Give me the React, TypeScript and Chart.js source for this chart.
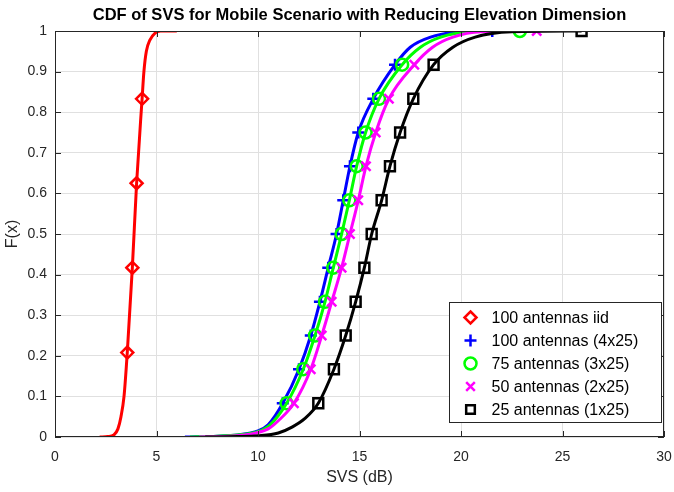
import React, { useEffect, useRef } from 'react';
import { Chart, registerables } from 'chart.js';

Chart.register(...registerables);

const FONT = '"Liberation Sans", Arial, Helvetica, sans-serif';
const AXIS_COLOR = '#262626';
const GRID_COLOR = '#e0e0e0';

const titleText = 'CDF of SVS for Mobile Scenario with Reducing Elevation Dimension';
const xTitle = 'SVS (dB)';
const yTitle = 'F(x)';

const seriesLabels = [
  '100 antennas iid',
  '100 antennas (4x25)',
  '75 antennas (3x25)',
  '50 antennas (2x25)',
  '25 antennas (1x25)',
];
const seriesColors = ['#ff0000', '#0000ff', '#00ff00', '#ff00ff', '#000000'];
const seriesMarkers = ['rectRot', 'cross', 'circle', 'crossRot', 'rect'];

// Curves
const iidCurveX = [2.2, 2.6, 2.9, 3.1, 3.25, 3.4, 3.56, 3.81, 4.02, 4.29, 4.38, 4.5, 4.68, 4.93, 5.2, 6.0];
const iidCurveY = [0, 0.001, 0.005, 0.02, 0.05, 0.1, 0.208, 0.417, 0.625, 0.833, 0.9, 0.95, 0.978, 0.995, 1, 1];

const ant100CurveX = [6.4, 8, 9, 10, 10.5, 11.22, 12.02, 12.6, 13.05, 13.46, 13.87, 14.2, 14.53, 14.94, 15.68, 16.75, 17.5, 18.5, 20, 21.54];
const ant100CurveY = [0, 0.002, 0.005, 0.015, 0.03, 0.083, 0.167, 0.25, 0.333, 0.417, 0.5, 0.583, 0.667, 0.75, 0.833, 0.917, 0.96, 0.985, 0.998, 1];

const ant75CurveX = [6.65, 8, 9, 10, 10.6, 11.41, 12.23, 12.81, 13.3, 13.71, 14.12, 14.5, 14.86, 15.3, 15.96, 17.1, 18, 19, 20.5, 22.9];
const ant75CurveY = [0, 0.002, 0.005, 0.013, 0.03, 0.083, 0.167, 0.25, 0.333, 0.417, 0.5, 0.583, 0.667, 0.75, 0.833, 0.917, 0.96, 0.985, 0.998, 1];

const ant50CurveX = [7.1, 8.5, 9.5, 10.5, 11, 11.77, 12.6, 13.14, 13.63, 14.12, 14.53, 14.94, 15.32, 15.8, 16.45, 17.7, 18.6, 19.6, 21, 23.73];
const ant50CurveY = [0, 0.002, 0.006, 0.02, 0.04, 0.083, 0.167, 0.25, 0.333, 0.417, 0.5, 0.583, 0.667, 0.75, 0.833, 0.917, 0.96, 0.985, 0.998, 1];

const ant25CurveX = [7.4, 9, 10, 11, 11.7, 12.3, 12.97, 13.74, 14.32, 14.81, 15.24, 15.6, 16.09, 16.5, 17.0, 17.65, 18.65, 19.6, 20.7, 22.5, 25.94];
const ant25CurveY = [0, 0.001, 0.003, 0.01, 0.025, 0.045, 0.083, 0.167, 0.25, 0.333, 0.417, 0.5, 0.583, 0.667, 0.75, 0.833, 0.917, 0.96, 0.985, 0.998, 1];

// Markers
const iidMarkX = [3.56, 3.81, 4.02, 4.29];
const iidMarkY = [0.208, 0.417, 0.625, 0.833];

const markLevels = [0.083, 0.167, 0.25, 0.333, 0.417, 0.5, 0.583, 0.667, 0.75, 0.833, 0.917, 1];
const ant100MarkX = [11.22, 12.02, 12.6, 13.05, 13.46, 13.87, 14.2, 14.53, 14.94, 15.68, 16.75, 21.54];
const ant75MarkX = [11.41, 12.23, 12.81, 13.3, 13.71, 14.12, 14.5, 14.86, 15.3, 15.96, 17.1, 22.9];
const ant50MarkX = [11.77, 12.6, 13.14, 13.63, 14.12, 14.53, 14.94, 15.32, 15.8, 16.45, 17.7, 23.73];
const ant25MarkX = [12.97, 13.74, 14.32, 14.81, 15.24, 15.6, 16.09, 16.5, 17.0, 17.65, 18.65, 25.94];

const xTicks = [0, 5, 10, 15, 20, 25, 30];
const yTicks = [0, 0.1, 0.2, 0.3, 0.4, 0.5, 0.6, 0.7, 0.8, 0.9, 1];

const curvesX = [iidCurveX, ant100CurveX, ant75CurveX, ant50CurveX, ant25CurveX];
const curvesY = [iidCurveY, ant100CurveY, ant75CurveY, ant50CurveY, ant25CurveY];
const marksX = [iidMarkX, ant100MarkX, ant75MarkX, ant50MarkX, ant25MarkX];
const marksY = [iidMarkY, markLevels, markLevels, markLevels, markLevels];

const zip = (xs: number[], ys: number[]) => xs.map((x, i) => ({ x, y: ys[i] }));

function drawMarker(ctx: CanvasRenderingContext2D, style: string, x: number, y: number, r: number) {
  ctx.beginPath();
  if (style === 'rectRot') {
    ctx.moveTo(x, y - r);
    ctx.lineTo(x + r, y);
    ctx.lineTo(x, y + r);
    ctx.lineTo(x - r, y);
    ctx.closePath();
  } else if (style === 'cross') {
    ctx.moveTo(x - r, y);
    ctx.lineTo(x + r, y);
    ctx.moveTo(x, y - r);
    ctx.lineTo(x, y + r);
  } else if (style === 'circle') {
    ctx.arc(x, y, r, 0, Math.PI * 2);
  } else if (style === 'crossRot') {
    const d = r * 0.72;
    ctx.moveTo(x - d, y - d);
    ctx.lineTo(x + d, y + d);
    ctx.moveTo(x + d, y - d);
    ctx.lineTo(x - d, y + d);
  } else if (style === 'rect') {
    const d = r * 0.72;
    ctx.rect(x - d, y - d, 2 * d, 2 * d);
  }
  ctx.stroke();
}

const frameAndLegend = {
  id: 'frameAndLegend',
  afterDraw(chart: any) {
    const ctx: CanvasRenderingContext2D = chart.ctx;
    const { left, right, top, bottom } = chart.chartArea;
    const xs = chart.scales.x;
    const ys = chart.scales.y;
    ctx.save();
    // box
    ctx.strokeStyle = AXIS_COLOR;
    ctx.lineWidth = 1;
    ctx.strokeRect(left + 0.5, top + 0.5, right - left - 1, bottom - top - 1);
    // inward ticks
    const tl = 6;
    ctx.beginPath();
    xTicks.forEach((v) => {
      const px = Math.round(xs.getPixelForValue(v)) + 0.5;
      ctx.moveTo(px, bottom);
      ctx.lineTo(px, bottom - tl);
      ctx.moveTo(px, top);
      ctx.lineTo(px, top + tl);
    });
    yTicks.forEach((v) => {
      const py = Math.round(ys.getPixelForValue(v)) + 0.5;
      ctx.moveTo(left, py);
      ctx.lineTo(left + tl, py);
      ctx.moveTo(right, py);
      ctx.lineTo(right - tl, py);
    });
    ctx.stroke();

    // legend
    const w = 212;
    const h = 120;
    const x0 = Math.round(right - 3 - w) + 0.5;
    const y0 = Math.round(bottom - 15 - h) + 0.5;
    ctx.fillStyle = '#ffffff';
    ctx.fillRect(x0, y0, w, h);
    ctx.strokeStyle = AXIS_COLOR;
    ctx.lineWidth = 1;
    ctx.strokeRect(x0, y0, w, h);
    ctx.font = `16px ${FONT}`;
    ctx.textBaseline = 'middle';
    ctx.textAlign = 'left';
    seriesLabels.forEach((lab, i) => {
      const cy = y0 + 15 + i * 23;
      ctx.strokeStyle = seriesColors[i];
      ctx.lineWidth = 2.5;
      drawMarker(ctx, seriesMarkers[i], x0 + 21, cy, 6);
      ctx.fillStyle = '#000000';
      ctx.fillText(lab, x0 + 42, cy + 1);
    });
    ctx.restore();
  },
};

export default function App() {
  const canvasRef = useRef<HTMLCanvasElement | null>(null);

  useEffect(() => {
    if (!canvasRef.current) return;
    const datasets: any[] = [];
    for (let i = 0; i < 5; i++) {
      datasets.push({
        label: seriesLabels[i] + ' curve',
        data: zip(curvesX[i], curvesY[i]),
        borderColor: seriesColors[i],
        backgroundColor: seriesColors[i],
        borderWidth: 3,
        pointRadius: 0,
        cubicInterpolationMode: 'monotone',
        fill: false,
        order: 20 - i * 2,
      });
      datasets.push({
        label: seriesLabels[i],
        data: zip(marksX[i], marksY[i]),
        showLine: false,
        pointStyle: seriesMarkers[i],
        pointRadius: seriesMarkers[i] === 'rect' ? 7 : seriesMarkers[i] === 'crossRot' ? 6.5 : 6,
        pointBorderWidth: 2.5,
        pointBorderColor: seriesColors[i],
        pointBackgroundColor: 'rgba(0,0,0,0)',
        borderColor: seriesColors[i],
        order: 19 - i * 2,
      });
    }
    const chart = new Chart(canvasRef.current, {
      type: 'line',
      data: { datasets },
      plugins: [frameAndLegend],
      options: {
        animation: false,
        responsive: true,
        maintainAspectRatio: false,
        events: [],
        layout: { padding: { top: 0, right: 10, left: 0, bottom: 0 } },
        plugins: {
          legend: { display: false },
          tooltip: { enabled: false },
          title: {
            display: true,
            fullSize: false,
            text: titleText,
            color: '#000000',
            font: { family: FONT, size: 16.5, weight: 'bold' },
            padding: { top: 5.2, bottom: 6 },
          },
        },
        scales: {
          x: {
            type: 'linear',
            min: 0,
            max: 30,
            afterBuildTicks: (s: any) => {
              s.ticks = xTicks.map((v) => ({ value: v }));
            },
            ticks: { color: AXIS_COLOR, font: { family: FONT, size: 14 }, padding: 12 },
            grid: { color: GRID_COLOR, drawTicks: false },
            border: { display: false },
            title: {
              display: true,
              text: xTitle,
              color: AXIS_COLOR,
              font: { family: FONT, size: 16 },
              padding: { top: 0, bottom: 5 },
            },
            afterFit: (s: any) => {
              s.height = 55;
              s.paddingLeft = 0;
              s.paddingRight = 0;
            },
          },
          y: {
            type: 'linear',
            min: 0,
            max: 1,
            afterBuildTicks: (s: any) => {
              s.ticks = yTicks.map((v) => ({ value: v }));
            },
            ticks: {
              color: AXIS_COLOR,
              font: { family: FONT, size: 14 },
              padding: 8,
              callback: (v: any) => (v === 0 ? '0' : v === 1 ? '1' : Number(v).toFixed(1)),
            },
            grid: { color: GRID_COLOR, drawTicks: false },
            border: { display: false },
            title: {
              display: true,
              text: yTitle,
              color: AXIS_COLOR,
              font: { family: FONT, size: 16 },
              padding: { top: 3, bottom: 0 },
            },
            afterFit: (s: any) => {
              s.width = 55;
              s.paddingTop = 0;
              s.paddingBottom = 0;
            },
          },
        },
      } as any,
    });
    return () => chart.destroy();
  }, []);

  return (
    <div style={{ position: 'fixed', left: 0, top: 0, width: 674, height: 492, background: '#fff' }}>
      <canvas ref={canvasRef} />
    </div>
  );
}
